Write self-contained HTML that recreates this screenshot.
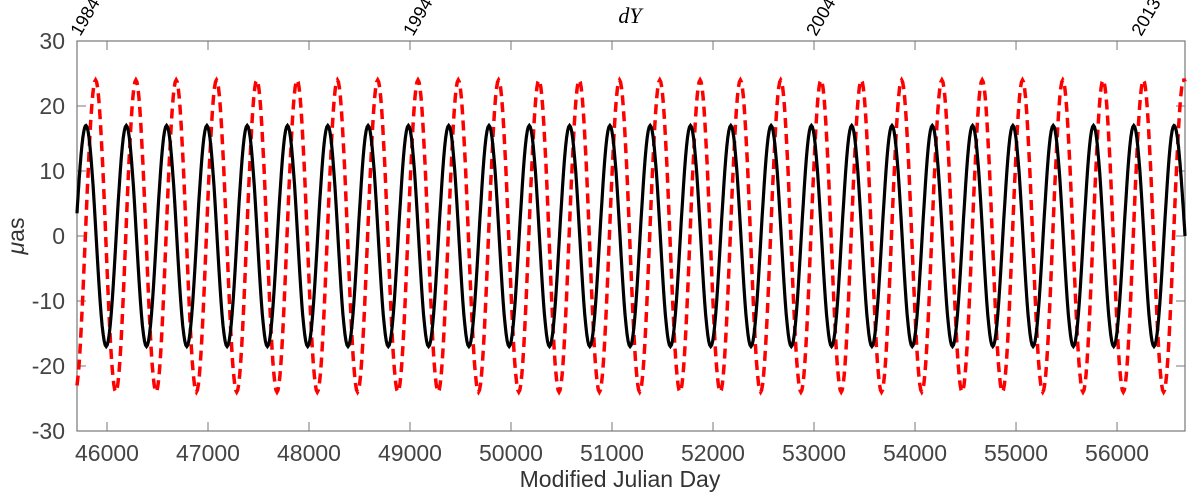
<!DOCTYPE html>
<html><head><meta charset="utf-8"><style>
html,body{margin:0;padding:0;background:#fff;}
svg{display:block;font-family:"Liberation Sans",sans-serif;}
</style></head><body>
<svg id="chart" width="1200" height="496" viewBox="0 0 1200 496" xmlns="http://www.w3.org/2000/svg">
<g id="axes"></g>
<g id="series"></g>
<text x="630" y="23" font-family="Liberation Serif,serif" font-style="italic" font-size="22" text-anchor="middle">dY</text>
<text x="620" y="487" font-size="23" fill="#333" text-anchor="middle">Modified Julian Day</text>
<text transform="translate(24,236) rotate(-90)" font-size="23" fill="#333" text-anchor="middle"><tspan font-style="italic">μ</tspan>as</text>
</svg>
<script>
const xTicks=[46000,47000,48000,49000,50000,51000,52000,53000,54000,55000,56000];
const yTicks=[-30,-20,-10,0,10,20,30];
const yearLabels=["1984","1994","2004","2013"];
const yearMJD=[45705,49000,52990,56210];
const blackPeaks=[45792,46191,46590,46989,47388,47787,48186,48585,48984,49383,49782,50181,50580,50979,51378,51777,52176,52575,52974,53373,53772,54171,54570,54969,55368,55767,56166,56565];
const blackTroughs=[45992,46391,46790,47189,47588,47987,48386,48785,49184,49583,49982,50381,50780,51179,51578,51977,52376,52775,53174,53573,53972,54371,54770,55169,55568,55967,56366];
const blackAmp=[17];
const blackEnds=[3.5,0];
const redPeaks=[45887,46286,46685,47084,47483,47882,48281,48680,49079,49478,49877,50276,50675,51074,51473,51872,52271,52670,53069,53468,53867,54266,54665,55064,55463,55862,56261,56660];
const redTroughs=[46087,46486,46885,47284,47683,48082,48481,48880,49279,49678,50077,50476,50875,51274,51673,52072,52471,52870,53269,53668,54067,54466,54865,55264,55663,56062,56461];
const redAmp=[24];
const redEnds=[-23,23.8];
const xDom=[45703,56673], yDom=[-30,30];
const L=77,R=1185,T=41,B=431;
const sx=v=>L+(v-xDom[0])/(xDom[1]-xDom[0])*(R-L);
const sy=v=>B-(v-yDom[0])/(yDom[1]-yDom[0])*(B-T);
const NS="http://www.w3.org/2000/svg";
function mk(tag,attrs,parent){const e=document.createElementNS(NS,tag);for(const k in attrs)e.setAttribute(k,attrs[k]);parent.appendChild(e);return e;}
const ax=document.getElementById('axes');
const frame=mk('rect',{x:L,y:T,width:R-L,height:B-T,fill:'none',stroke:'#777','stroke-width':1.2},ax);


xTicks.forEach(t=>{const x=sx(t);
 const a=mk('line',{x1:x,x2:x,y1:B,y2:B-9,stroke:'#777'},ax);
 
 
 const b=mk('line',{x1:x,x2:x,y1:T,y2:T+9,stroke:'#777'},ax);
 
 
 const tx=mk('text',{x:x,y:B+30,'font-size':23,fill:'#444','text-anchor':'middle'},ax);tx.textContent=t;
 
 
});
yTicks.forEach(t=>{const y=sy(t);
 const a=mk('line',{x1:L,x2:L+9,y1:y,y2:y,stroke:'#777'},ax);
 
 
 const b=mk('line',{x1:R,x2:R-9,y1:y,y2:y,stroke:'#777'},ax);
 
 
 const tx=mk('text',{x:L-12,y:y+8,'font-size':23,fill:'#444','text-anchor':'end'},ax);tx.textContent=t;
 
 
});
yearLabels.forEach((lab,i)=>{const x=sx(yearMJD[i]);
 const tx=mk('text',{transform:`translate(${x+3},37) rotate(-60)`,'font-size':18,fill:'#000'},ax);tx.textContent=lab;
 
 
});
function curve(peaks,troughs,amp,ends){
 let ext=[];peaks.forEach(t=>ext.push([t,amp]));troughs.forEach(t=>ext.push([t,-amp]));
 ext.sort((a,b)=>a[0]-b[0]);
 const pts=[[xDom[0],ends[0]]].concat(ext).concat([[xDom[1],ends[1]]]);
 let d='M'+sx(pts[0][0]).toFixed(1)+','+sy(pts[0][1]).toFixed(1);
 for(let i=0;i<pts.length-1;i++){
  const [t0,v0]=pts[i],[t1,v1]=pts[i+1];
  const isStart=i==0, isEnd=i==pts.length-2;
  const n=20;
  for(let k=1;k<=n;k++){
   const f=k/n;let t=t0+(t1-t0)*f,v;
   if(isStart){const a=pts[1][1];const ph=Math.acos(Math.max(-1,Math.min(1,v0/a)));
    v=a*Math.cos(ph*(1-f));}
   else if(isEnd){const a=v0;const ph=Math.acos(Math.max(-1,Math.min(1,v1/a)));
    v=a*Math.cos(ph*f);}
   else v=(v0+v1)/2+(v0-v1)/2*Math.cos(Math.PI*f);
   d+=' L'+sx(t).toFixed(1)+','+sy(v).toFixed(1);
  }
 }
 return d;
}
const sg=document.getElementById('series');
const red=mk('path',{d:curve(redPeaks,redTroughs,redAmp[0],redEnds),fill:'none',stroke:'#ff0000','stroke-width':3.5,'stroke-dasharray':'10 6'},sg);


const blk=mk('path',{d:curve(blackPeaks,blackTroughs,blackAmp[0],blackEnds),fill:'none',stroke:'#000','stroke-width':3.2},sg);


</script>
</body></html>
